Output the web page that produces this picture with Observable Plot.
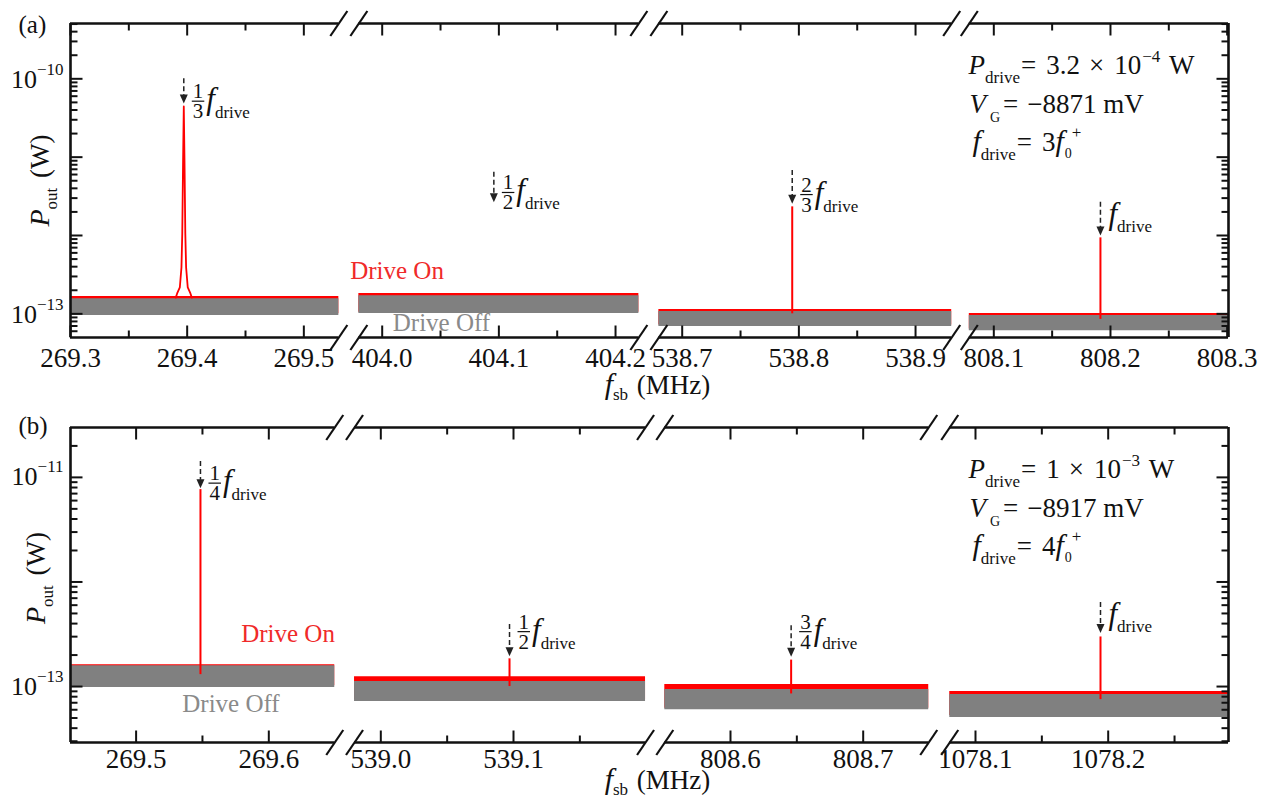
<!DOCTYPE html>
<html><head><meta charset="utf-8">
<script src="https://cdn.jsdelivr.net/npm/d3@7"></script>
<script src="https://cdn.jsdelivr.net/npm/@observablehq/plot@0.6"></script>
<style>body{margin:0;background:#fff;} svg{display:block;background:#fff}
svg text{font-family:"Liberation Serif","DejaVu Serif",serif !important;}</style>
</head><body><div id="chart"></div>
<script>
// ================= DATA: panel (a) =================
const segStartA = [269.300, 403.980, 538.680, 808.079];   // measured span of each trace (MHz)
const segEndA   = [269.530, 404.220, 538.931, 808.302];
const onHiA  = [1.66e-13, 1.82e-13, 1.135e-13, 1.01e-13];  // Drive On noise band (W)
const onLoA  = [1.00e-13, 1.05e-13, 7.2e-14, 6.4e-14];
const offHiA = [1.56e-13, 1.70e-13, 1.07e-13, 9.5e-14];   // Drive Off noise band (W)
const offLoA = [9.5e-14, 1.01e-13, 6.9e-14, 6.1e-14];
const resFreqA = [269.3902, 269.3914, 269.3937, 269.3951, 269.3958, 269.3965, 269.3971, 269.3977, 269.3984, 269.3991, 269.4005, 269.4028, 269.4040];
const resPowA  = [1.61e-13, 1.82e-13, 2.17e-13, 3.9e-13, 1.06e-12, 9.1e-12, 4.43e-11, 9.1e-12, 1.06e-12, 3.9e-13, 2.17e-13, 1.82e-13, 1.61e-13];
const lineSegA  = [2, 3];
const lineFreqA = [538.7943, 808.1914];
const linePowA  = [2.32e-12, 9.33e-13];
const lineBaseA = [1.0e-13, 8.5e-14];
const markSegA   = [0, 1, 2, 3];
const markFreqA  = [269.3971, 404.0957, 538.7943, 808.1914];
const markFracA  = [["1","3"], ["1","2"], ["2","3"], null];
const majorTicksA = [[269.3, 269.4, 269.5], [404.0, 404.1, 404.2], [538.7, 538.8, 538.9], [808.1, 808.2, 808.3]];
const minorTicksA = [[269.35, 269.45], [404.05, 404.15], [538.75, 538.85], [808.15, 808.25]];
const statsA = {p: "3.2", pExp: "\u22124", vg: "\u22128871 mV", n: "3"};

// ================= DATA: panel (b) =================
const segStartB = [269.4506, 538.9802, 808.5505, 1078.0806];
const segEndB   = [269.6497, 539.1995, 808.7494, 1078.2907];
const onHiB  = [1.62e-13, 1.24e-13, 1.045e-13, 8.96e-14];
const onLoB  = [1.02e-13, 7.5e-14, 6.2e-14, 5.3e-14];
const offHiB = [1.58e-13, 1.12e-13, 9.35e-14, 8.4e-14];
const offLoB = [9.8e-14, 7.2e-14, 6.0e-14, 5.06e-14];
const lineSegB  = [0, 1, 2, 3];
const lineFreqB = [269.5485, 539.0970, 808.6457, 1078.1942];
const linePowB  = [7.64e-12, 1.84e-13, 1.79e-13, 2.98e-13];
const lineBaseB = [1.3e-13, 1.0e-13, 8.5e-14, 7.5e-14];
const markSegB   = [0, 1, 2, 3];
const markFreqB  = [269.5485, 539.0970, 808.6457, 1078.1942];
const markFracB  = [["1","4"], ["1","2"], ["3","4"], null];
const majorTicksB = [[269.5, 269.6], [539.0, 539.1], [808.6, 808.7], [1078.1, 1078.2]];
const minorTicksB = [[269.55], [539.05, 539.15], [808.65], [1078.15, 1078.25]];
const statsB = {p: "1", pExp: "\u22123", vg: "\u22128917 mV", n: "4"};

// ================= LAYOUT (positions, sizes, styles) =================
const FONT = '"Liberation Serif", "DejaVu Serif", serif';
const RED = "#ff0000", GRAY = "#808080", INK = "#111111";
const layoutA = {
  key: "a", label: "(a)", height: 400, mt: 23, mb: 63, ml: 70, mr: 34,
  xMax: 0.99254, yDomain: [10 ** -13.302, 10 ** -9.294], ppd: 78.33,
  segF0: [269.3, 404.0, 538.7, 808.1], segV0: [0, 0.26716, 0.52430, 0.79138],
  tickLabelDy: 29, yLabelled: [[1e-10, "\u221210"], [1e-13, "\u221213"]], yTickDy: 9,
  xTitleDy: 56, panelDy: 9, yLabelDx: -22, yLabelDy: 0,
  arrowTop: [1e-10, 6.43e-12, 6.75e-12, 2.66e-12], arrowTip: [4.84e-11, 2.66e-12, 2.54e-12, 1.0e-12],
  labelRef: [5.18e-11, 3.54e-12, 3.33e-12, 1.75e-12],
  onText: {seg: 1, f: 404.0127, p: 2.82e-13}, offText: {seg: 1, f: 404.0508, p: 6.12e-14}
};
const layoutB = {
  key: "b", label: "(b)", height: 398, mt: 27, mb: 56, ml: 70, mr: 34,
  xMax: 0.87265, yDomain: [10 ** -13.535, 10 ** -10.523], ppd: 104.75,
  segF0: [269.5, 539.0, 808.6, 1078.1], segV0: [0.04944, 0.23384, 0.49736, 0.68199],
  tickLabelDy: 25, yLabelled: [[1e-11, "\u221211"], [1e-13, "\u221213"]], yTickDy: 8,
  xTitleDy: 46, panelDy: 6, yLabelDx: -26, yLabelDy: -7,
  arrowTop: [1.42e-11, 3.91e-13, 3.82e-13, 6.38e-13], arrowTip: [7.89e-12, 1.95e-13, 1.93e-13, 3.26e-13],
  labelRef: [8.81e-12, 3.35e-13, 3.35e-13, 4.77e-13],
  onText: {seg: 0, f: 269.6145, p: 2.69e-13}, offText: {seg: 0, f: 269.5715, p: 5.65e-14}
};

// ================= helpers =================
const ctx2d = document.createElement("canvas").getContext("2d");
const nb = s => s.replace(/ /g, "\u00a0");
function tw(s, size, italic) { ctx2d.font = `${italic ? "italic " : ""}${size}px ${FONT}`; return ctx2d.measureText(s).width; }
const segSym = (x1, y1, x2, y2) => ({draw(c) { c.moveTo(x1, y1); c.lineTo(x2, y2); }});
const headSym = {draw(c) { c.moveTo(-4, -9); c.lineTo(4, -9); c.lineTo(0, 0); c.closePath(); }};

function rich(data, chan, pieces, {anchor = "start", rotate = 0, dx = 0, dy = 0, fill = INK} = {}) {
  const widths = pieces.map(p => (p.pre || 0) + (p.frac
    ? Math.max(tw(p.frac[0], p.size), tw(p.frac[1], p.size)) + 4
    : tw(nb(p.t), p.size, p.italic)));
  const total = d3.sum(widths);
  let cur = anchor === "start" ? 0 : anchor === "middle" ? -total / 2 : -total;
  const at = (along, shift) => rotate === -90 ? {dx: dx + shift, dy: dy - along} : {dx: dx + along, dy: dy + shift};
  const out = [];
  pieces.forEach((p, i) => {
    const start = cur + (p.pre || 0);
    const w = widths[i] - (p.pre || 0);
    const col = p.fill || fill;
    const common = {...chan, fontFamily: FONT, fill: col, lineAnchor: "bottom", rotate};
    if (p.frac) {
      const mid = start + w / 2;
      out.push(Plot.text(data, {...common, text: () => p.frac[0], fontSize: p.size, textAnchor: "middle", ...at(mid, -3)}));
      out.push(Plot.text(data, {...common, text: () => p.frac[1], fontSize: p.size, textAnchor: "middle", ...at(mid, 17)}));
      out.push(Plot.dot(data, {...chan, symbol: segSym(-w / 2 + 1, 0, w / 2 - 1, 0), fill: "none", stroke: col, strokeWidth: 1.2, ...at(mid, 0)}));
    } else {
      out.push(Plot.text(data, {...common, text: () => nb(p.t), fontSize: p.size,
        fontStyle: p.italic ? "italic" : "normal", textAnchor: "start", ...at(start, p.shift || 0)}));
    }
    cur += widths[i];
  });
  return out;
}

function buildPanel(D, L) {
  const vf = (i, f) => L.segV0[i] + (f - L.segF0[i]);
  const [yLo, yHi] = L.yDomain;
  const xMax = L.xMax;
  const nSeg = D.segStart.length;
  const marks = [];

  // noise bands: Drive On (red) under Drive Off (gray)
  const band = D.segStart.flatMap((s, i) => [s, D.segEnd[i]].map(f => ({
    seg: i, x: vf(i, f), onLo: D.onLo[i], onHi: D.onHi[i], offLo: D.offLo[i], offHi: D.offHi[i]})));
  marks.push(Plot.areaY(band, {x: "x", y1: "onLo", y2: "onHi", z: "seg", fill: RED}));
  marks.push(Plot.areaY(band, {x: "x", y1: "offLo", y2: "offHi", z: "seg", fill: GRAY}));

  // resonance shapes / narrow lines
  if (D.resFreq) {
    const res = D.resFreq.map((f, j) => ({x: vf(0, f), y: D.resPow[j]}));
    marks.push(Plot.line(res, {x: "x", y: "y", stroke: RED, strokeWidth: 1.8}));
  }
  const lines = D.lineFreq.map((f, j) => ({x: vf(D.lineSeg[j], f), top: D.linePow[j], base: D.lineBase[j]}));
  marks.push(Plot.ruleX(lines, {x: "x", y1: "base", y2: "top", stroke: RED, strokeWidth: 2}));

  // frame
  const frame = D.segStart.map((s, i) => ({
    x1: i === 0 ? 0 : vf(i, s), x2: i === nSeg - 1 ? xMax : vf(i, D.segEnd[i])}));
  for (const yy of [yLo, yHi])
    marks.push(Plot.ruleY(frame, {x1: "x1", x2: "x2", y: () => yy, stroke: INK, strokeWidth: 2.6}));
  marks.push(Plot.ruleX([0, xMax], {x: d => d, stroke: INK, strokeWidth: 2.6}));

  // axis breaks
  const breaks = [];
  for (let i = 0; i < nSeg - 1; i++)
    for (const x of [vf(i, D.segEnd[i]), vf(i + 1, D.segStart[i + 1])])
      for (const y of [yLo, yHi]) breaks.push({x, y});
  marks.push(Plot.dot(breaks, {x: "x", y: "y", symbol: segSym(-8.5, 12.5, 8.5, -12.5), fill: "none", stroke: INK, strokeWidth: 2.2}));

  // x ticks
  const majors = D.majorTicks.flatMap((ts, i) => ts.map(t => ({x: vf(i, t), t})));
  const minors = D.minorTicks.flatMap((ts, i) => ts.map(t => ({x: vf(i, t), t})));
  for (const [rows, len] of [[majors, 12], [minors, 7]]) {
    marks.push(Plot.dot(rows, {x: "x", y: () => yLo, symbol: segSym(0, 0, 0, -len), fill: "none", stroke: INK, strokeWidth: 2}));
    marks.push(Plot.dot(rows, {x: "x", y: () => yHi, symbol: segSym(0, 0, 0, len), fill: "none", stroke: INK, strokeWidth: 2}));
  }
  marks.push(Plot.text(majors, {x: "x", y: () => yLo, text: d => d.t.toFixed(1), dy: L.tickLabelDy,
    lineAnchor: "bottom", textAnchor: "middle", fontSize: 27, fontFamily: FONT, fill: INK}));

  // y ticks (log)
  const yt = [];
  for (let n = -15; n <= -8; n++) for (let k = 1; k <= 9; k++) {
    const v = k * 10 ** n;
    if (v > yLo * 1.01 && v < yHi * 0.99) yt.push({y: v, major: k === 1});
  }
  for (const major of [true, false]) {
    const rows = yt.filter(d => d.major === major), len = major ? 12 : 7;
    marks.push(Plot.dot(rows, {x: () => 0, y: "y", symbol: segSym(0, 0, len, 0), fill: "none", stroke: INK, strokeWidth: 2}));
    marks.push(Plot.dot(rows, {x: () => xMax, y: "y", symbol: segSym(0, 0, -len, 0), fill: "none", stroke: INK, strokeWidth: 2}));
  }
  for (const [v, e] of L.yLabelled)
    marks.push(...rich([{x: 0, y: v}], {x: "x", y: "y"},
      [{t: "10", size: 26}, {t: e, size: 17, shift: -13}], {anchor: "end", dx: -7, dy: L.yTickDy}));

  // arrows + labels
  D.markFreq.forEach((f, j) => {
    const x = vf(D.markSeg[j], f);
    const tip = L.arrowTip[j], top = L.arrowTop[j];
    const base = tip * 10 ** (8 / L.ppd);
    marks.push(Plot.ruleX([{x, top, base}], {x: "x", y1: "top", y2: "base", stroke: "#222", strokeWidth: 1.5, strokeDasharray: "5,3"}));
    marks.push(Plot.dot([{x, y: tip}], {x: "x", y: "y", symbol: headSym, fill: "#222", stroke: "none"}));
    const fr = D.markFrac[j];
    const pieces = fr
      ? [{frac: fr, size: 21, pre: 7}, {t: "f", size: 31, italic: true, shift: 8, pre: 1}, {t: "drive", size: 17, shift: 17}]
      : [{t: "f", size: 31, italic: true, shift: 8, pre: 8}, {t: "drive", size: 17, shift: 16}];
    marks.push(...rich([{x, y: L.labelRef[j]}], {x: "x", y: "y"}, pieces));
  });

  // Drive On / Off labels
  marks.push(Plot.text([L.onText], {x: d => vf(d.seg, d.f), y: "p", text: () => nb("Drive On"), fontSize: 25,
    fontFamily: FONT, fill: "#f02a2a", textAnchor: "middle", lineAnchor: "bottom"}));
  marks.push(Plot.text([L.offText], {x: d => vf(d.seg, d.f), y: "p", text: () => nb("Drive Off"), fontSize: 25,
    fontFamily: FONT, fill: "#8a8a8a", textAnchor: "middle", lineAnchor: "bottom"}));

  // parameter box
  const TL = {frameAnchor: "top-left"};
  const S = D.stats;
  marks.push(...rich([{}], TL, [{t: "P", size: 27, italic: true}, {t: "drive", size: 17, shift: 9},
    {t: "=", size: 27, pre: 1}, {t: S.p, size: 27, pre: 10}, {t: "×", size: 27, pre: 9}, {t: "10", size: 27, pre: 10},
    {t: S.pExp, size: 17, shift: -12, pre: 1}, {t: " W", size: 27, pre: 2}], {dx: 898, dy: 50}));
  marks.push(...rich([{}], TL, [{t: "V", size: 27, italic: true, pre: 1}, {t: "G", size: 14, shift: 9, pre: 4},
    {t: "=", size: 27, pre: 3}, {t: S.vg, size: 27, pre: 9}], {dx: 898, dy: 89}));
  marks.push(...rich([{}], TL, [{t: "f", size: 30, italic: true, pre: 4}, {t: "drive", size: 17, shift: 9},
    {t: "=", size: 27, pre: 1}, {t: S.n, size: 27, pre: 10}, {t: "f", size: 30, italic: true}, {t: "0", size: 14, shift: 7, pre: 1},
    {t: "+", size: 17, shift: -13}], {dx: 898, dy: 127}));

  // axis titles and panel label
  marks.push(...rich([{}], {frameAnchor: "bottom"}, [{t: "f", size: 30, italic: true}, {t: "sb", size: 17, shift: 6},
    {t: " (MHz)", size: 27, pre: 2}], {anchor: "middle", dx: 8, dy: L.xTitleDy}));
  marks.push(...rich([{}], {frameAnchor: "left"}, [{t: "P", size: 28, italic: true}, {t: "out", size: 17, shift: 8},
    {t: " (W)", size: 27, pre: 3}], {anchor: "middle", rotate: -90, dx: L.yLabelDx, dy: L.yLabelDy}));
  marks.push(Plot.text([{}], {frameAnchor: "top-left", text: () => L.label, dx: -52, dy: L.panelDy,
    fontSize: 25, fontFamily: FONT, fill: INK, textAnchor: "start", lineAnchor: "bottom"}));

  return Plot.plot({
    width: 1262, height: L.height,
    marginTop: L.mt, marginBottom: L.mb, marginLeft: L.ml, marginRight: L.mr,
    x: {domain: [0, xMax], axis: null},
    y: {type: "log", domain: L.yDomain, axis: null},
    style: {background: "#fff", overflow: "visible"},
    marks
  });
}

const dataA = {segStart: segStartA, segEnd: segEndA, onHi: onHiA, onLo: onLoA, offHi: offHiA, offLo: offLoA,
  resFreq: resFreqA, resPow: resPowA, lineSeg: lineSegA, lineFreq: lineFreqA, linePow: linePowA, lineBase: lineBaseA,
  markSeg: markSegA, markFreq: markFreqA, markFrac: markFracA, majorTicks: majorTicksA, minorTicks: minorTicksA, stats: statsA};
const dataB = {segStart: segStartB, segEnd: segEndB, onHi: onHiB, onLo: onLoB, offHi: offHiB, offLo: offLoB,
  lineSeg: lineSegB, lineFreq: lineFreqB, linePow: linePowB, lineBase: lineBaseB,
  markSeg: markSegB, markFreq: markFreqB, markFrac: markFracB, majorTicks: majorTicksB, minorTicks: minorTicksB, stats: statsB};

const root = document.getElementById("chart");
root.append(buildPanel(dataA, layoutA));
root.append(buildPanel(dataB, layoutB));
</script>
</body></html>
